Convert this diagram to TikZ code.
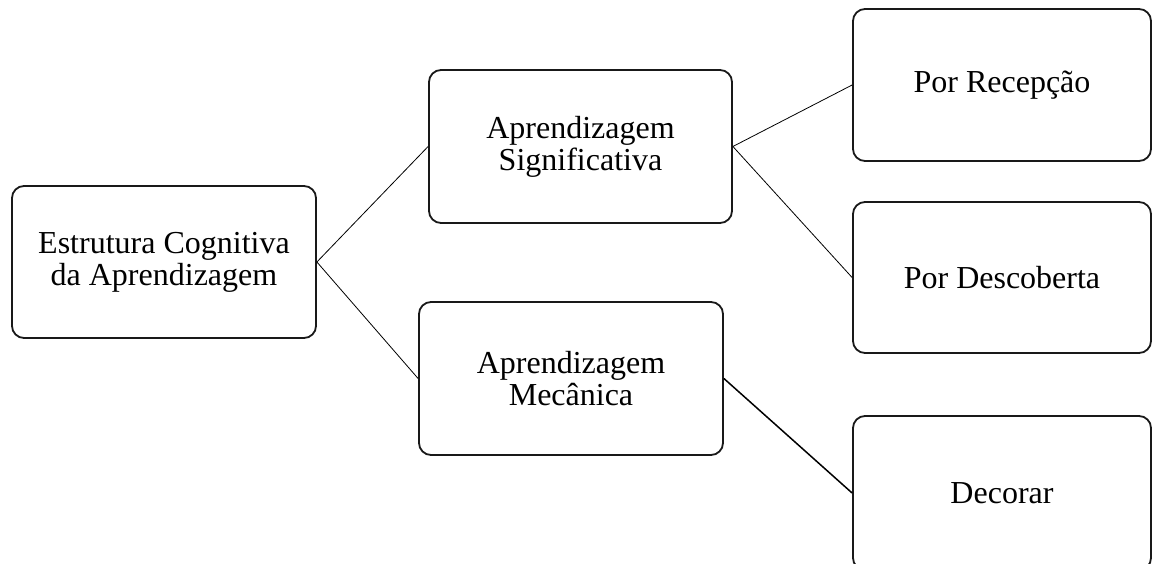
\documentclass[tikz,border=0pt]{standalone}
\usepackage{fontspec}
\setmainfont{Liberation Serif}
\begin{document}
\begin{tikzpicture}[x=1pt,y=-1pt,
  box/.style={draw=black!90, line width=1.8pt, rounded corners=12pt, fill=white, align=center,
    inner sep=0pt, font=\fontsize{32}{32}\selectfont},
  link/.style={draw=black, line width=0.8pt},
  boldlink/.style={draw=black, line width=1.5pt}]
\useasboundingbox (0,0) rectangle (1152,564);
\clip (0,0) rectangle (1152,564);
\node[box, minimum width=304pt, minimum height=152pt] (root) at (164,262) {Estrutura Cognitiva\\da Aprendizagem};
\node[box, minimum width=303pt, minimum height=153pt] (sig) at (580.5,146.5) {Aprendizagem\\Significativa};
\node[box, minimum width=304pt, minimum height=153pt] (mec) at (571,378.5) {Aprendizagem\\Mecânica};
\node[box, minimum width=298pt, minimum height=152pt] (rec) at (1002,85) {Por Recepção};
\node[box, minimum width=298pt, minimum height=151pt] (des) at (1002,277.5) {Por Descoberta};
\node[box, minimum width=298pt, minimum height=154pt] (dec) at (1002,493) {Decorar};
\draw[link] (root.east) -- (sig.west);
\draw[link] (root.east) -- (mec.west);
\draw[link] (sig.east) -- (rec.west);
\draw[link] (sig.east) -- (des.west);
\draw[boldlink] (mec.east) -- (dec.west);
\end{tikzpicture}
\end{document}
